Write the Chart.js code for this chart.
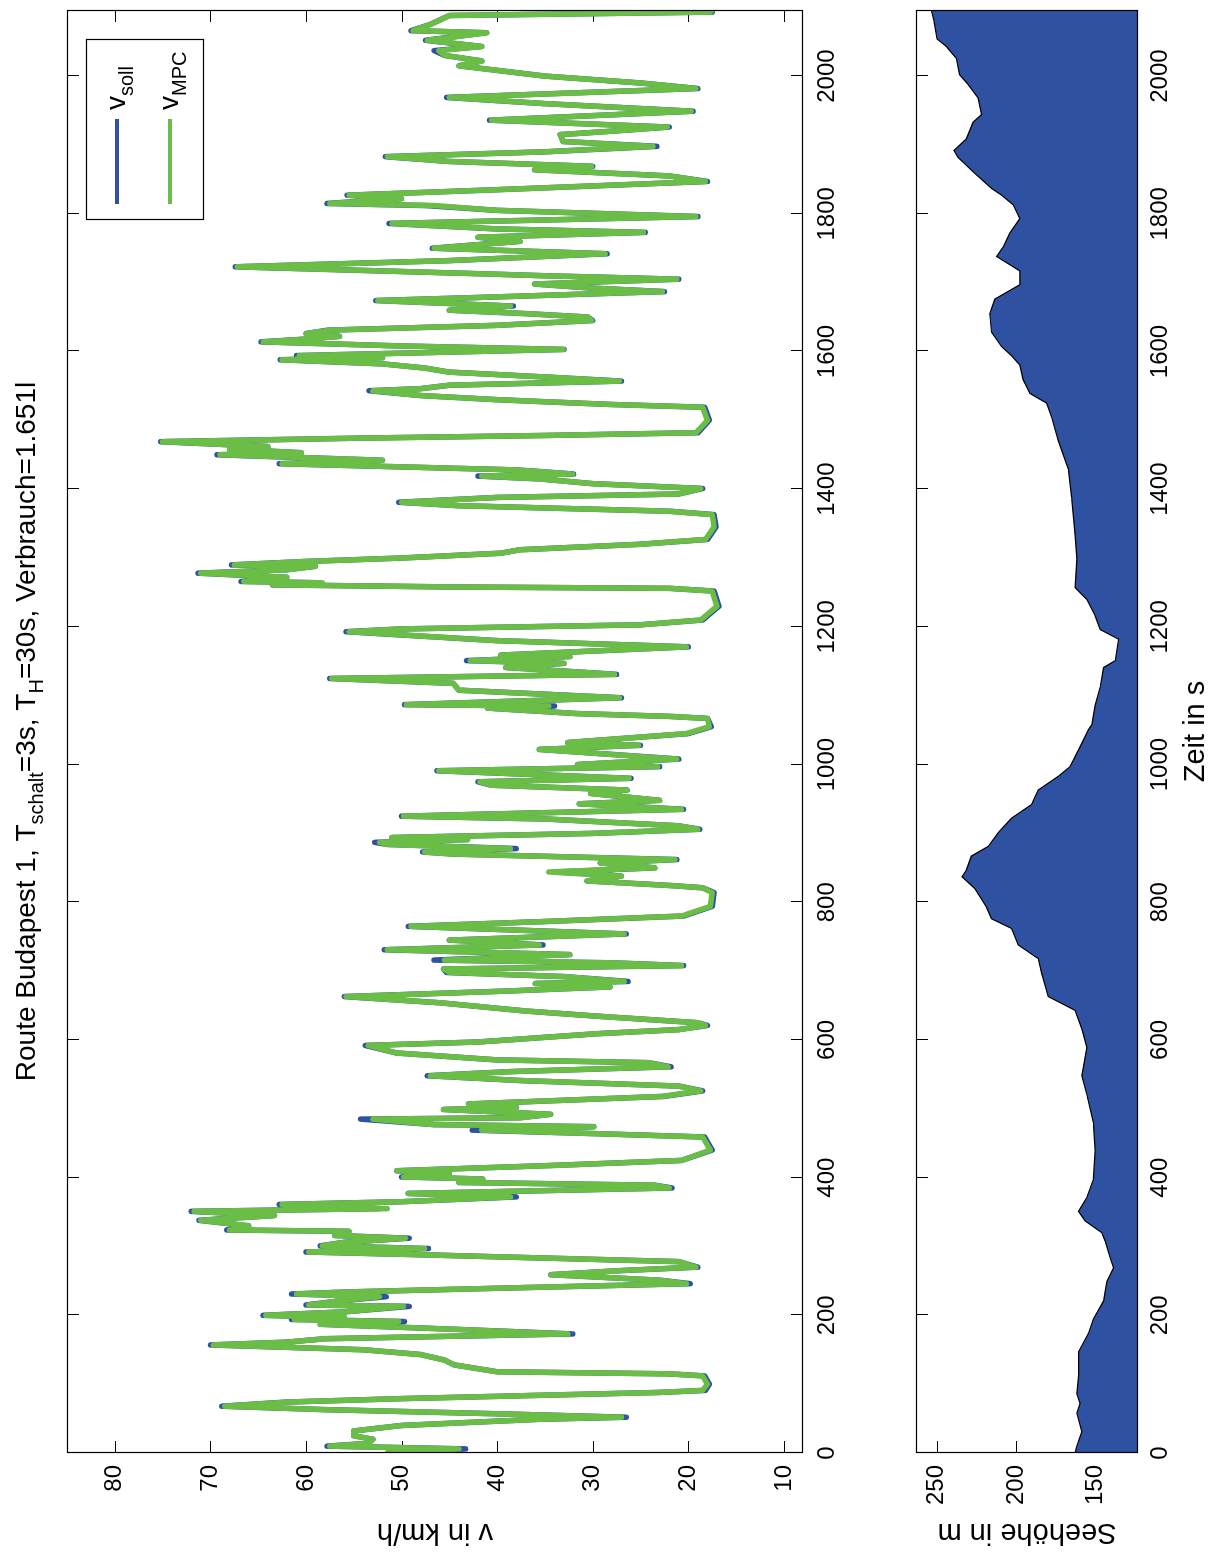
<!DOCTYPE html>
<html><head><meta charset="utf-8">
<script src="https://cdn.jsdelivr.net/npm/chart.js@4.4.0/dist/chart.umd.min.js"></script>
<style>
html,body{margin:0;padding:0;background:#fff;width:1222px;height:1555px;overflow:hidden}
#wrap{position:absolute;left:0;top:0;width:1555px;height:1222px;background:#fff;transform-origin:0 0;transform:translate(0,1555px) rotate(-90deg);}
#c1{position:absolute;left:0;top:0}
#c2{position:absolute;left:0;top:870px}
</style></head>
<body><div id="wrap"><canvas id="c1" width="1555" height="870"></canvas><canvas id="c2" width="1555" height="352"></canvas></div>
<script>
// ---- data ----
const timeS = [
0,3,6,10,14,20,25,32,40,49,
52,57,63,68,74,79,84,88,91,100,
112,115,118,128,135,143,150,157,161,166,
173,180,187,191,194,197,200,205,213,215,
221,227,231,234,240,246,251,259,265,270,
278,285,288,292,297,301,306,312,316,322,
324,330,338,345,351,355,361,365,372,377,
385,389,393,398,401,406,410,418,425,440,
459,464,469,474,477,485,487,492,499,502,
507,518,526,533,541,548,554,561,567,571,
581,592,597,609,615,621,625,634,642,654,
663,671,677,682,685,692,698,703,708,712,
716,724,731,738,742,745,754,765,772,780,
794,814,821,824,831,838,844,850,857,862,
870,873,878,884,887,891,894,900,906,911,
921,925,935,943,948,958,963,970,975,980,
991,997,1000,1008,1022,1028,1032,1045,1055,1067,
1070,1074,1082,1085,1087,1097,1108,1118,1125,1131,
1141,1147,1151,1157,1159,1171,1180,1193,1197,1203,
1210,1230,1252,1256,1258,1261,1264,1266,1272,1278,
1283,1288,1290,1295,1300,1307,1312,1320,1327,1345,
1363,1368,1376,1381,1388,1393,1401,1408,1415,1419,
1422,1428,1437,1442,1450,1453,1458,1462,1469,1474,
1478,1482,1500,1519,1523,1527,1530,1536,1543,1546,
1551,1557,1563,1570,1576,1582,1588,1591,1594,1603,
1608,1614,1618,1622,1626,1631,1638,1645,1650,1655,
1660,1666,1674,1678,1687,1692,1698,1705,1710,1713,
1723,1732,1742,1750,1760,1766,1773,1778,1786,1796,
1805,1812,1815,1822,1827,1835,1847,1855,1864,1869,
1876,1883,1890,1898,1905,1915,1920,1926,1936,1949,
1960,1969,1982,1990,2000,2015,2022,2030,2037,2043,
2052,2063,2066,2075,2088,2093,2096];
const vSoll = [
51.5,48,43.3,57.8,53.5,53,55,55,50,35.6,
26.5,40,58,68.8,62,50,35,23,18.2,17.8,
18.3,22,40,44.5,45.5,48,54,70,62,58,
32.1,45,58.5,49.7,61.5,56,64.5,56,49.2,60,
56.5,51.6,61.5,55.5,38,19.8,23,34.4,27,19,
21,40,48,60,47.2,58.5,56,49.2,57,55.5,
68.3,66,71.2,63.3,72,52.3,62.8,50,38,49.3,
21.7,23.5,44,41.5,50,45,50.5,33.6,20.7,17.5,
18.3,30,42.6,29.9,46.6,54.3,37.6,34.4,45.6,38,
43,22.5,18.5,21,37.5,47.3,38.6,21.8,24.2,40,
50.5,53.8,42,29.6,21,18,19,29,37,46,
56,39,28.2,36,26.3,33,45.3,45.6,20.5,28,
46.6,32.4,51.8,35.2,40.5,45,26.5,49.3,35,20.5,
17.5,17.3,18.5,21.5,30.6,27,33.8,23.5,29.2,21.2,
44.6,47.8,38,51.5,52.8,43.1,51,30,18.8,21,
35,50,20.5,31.4,23,30.2,26.4,40.6,42,26,
46.3,23,31.6,21,35.6,25,32.6,20,17.6,18,
22,31.6,41,34,49.7,27,44,44.6,57.5,27.5,
39.1,33,43.2,32.4,39.6,20,40,55.8,50,25,
18.5,16.8,17.3,22,45,63.5,58.6,66.8,62,71.3,
62,59,67.8,60,50,39.6,37.6,25,18,17.1,
17.3,22,44,50.3,40,21,18.5,30,35.6,42,
32,38,62.8,52,69.3,60.5,68,64,75.2,55,
35,19,17.8,18.3,28,35,40,48,53.4,48,
45,27,35,45,47.6,52,62.7,52,61,33,
50,64.7,60,56.5,60,57.7,40,30,30.5,37,
45,38.3,52.7,43,22.5,30,36.1,21,35,42,
67.4,45,28.5,46.8,37.6,42,24.5,40,51.3,19,
40,47.5,57.8,50,55.7,40,18,22,36.1,30,
45,51.7,35,23.3,33.1,33.4,28,22,40.8,19.5,
35,45.3,19,25,35,44,41.6,45.5,46.6,41.6,
47.5,41.1,49,47,45,17.5,17.5];
const vMPC = [
51.5,48,44,57.5,53.5,53,55,55,50,35.6,
27,40,58,68.5,62,50,35,23,18.5,18,
18.5,22,40,44.5,45.5,48,54,69.7,62,58,
32.6,45,58.5,50.3,61.2,56,64.2,56,49.8,59.7,
56.5,52.3,61,55.5,38,20.2,23,34.4,27,19.2,
21,40,48,59.7,47.6,58.3,56,49.6,57,55.5,
68,66,71,63.3,71.7,51.5,62.5,50,38.6,49.3,
22,23.5,44,41.5,49.8,45,50.5,33.6,20.7,17.7,
18.5,30,41.6,29.9,46.6,53,37.6,34.4,45.6,38,
43,22.7,18.7,21,37.5,47,38.6,22.1,24.2,40,
50.5,53.5,42,29.6,21,18.2,19,29,37,46,
55.8,39,28.2,36,26.7,33,45,45.6,20.7,28,
45.5,32.4,51.5,35.6,40.5,45,26.7,49,35,20.7,
17.7,17.5,18.5,21.5,30.6,27,34.6,23.5,29.2,21.4,
44.6,47.6,38.6,51.5,52.3,43.1,51,30,19,21,
35,49.8,20.7,31.4,23,30.2,26.4,40.6,41.8,26.2,
46.1,23.2,31.6,21.2,35.6,25.2,32.6,20.2,17.8,18,
22,31.6,41,34.6,49.5,27.2,44,44.6,57.3,27.7,
39.1,33,42.8,32.4,39.6,20.2,40,55.5,50,25,
18.7,17,17.5,22,45,63.5,58.3,66.5,62,71,
62,59,67.5,60,50,39.6,37.6,25,18.2,17.3,
17.5,22,44,50,40,21,18.7,30,35.6,41.6,
32.1,38,62.5,52,69,60.5,68,64,75,55,
35,19.2,18,18.5,28,35,40,48,53,48,
45,27.2,35,45,47.6,52,62.5,52,60.7,33.1,
50,64.5,60,56.5,60,57.5,40,30.1,30.5,37,
45,38.6,52.5,43,22.7,30,36.1,21.2,35,42,
67.2,45,28.7,46.6,37.6,42,24.7,40,51,19.2,
40,46.6,57.5,50,55.5,40,18.2,22,36.1,30.1,
45,51.5,35,23.7,33.1,33.4,28,22.2,40.6,19.7,
35,45,19.2,25,35,44,41.6,45.5,46.1,41.6,
47.3,41.1,48.8,47,45,17.7,17.5];
const altTime = [0,10,31,58,72,86,113,147,174,195,221,249,269,283,307,320,337,351,371,398,439,480,521,548,589,616,643,663,697,718,738,762,776,793,820,837,847,867,881,901,922,942,963,983,997,1031,1051,1058,1086,1113,1141,1151,1182,1196,1216,1240,1257,1299,1333,1388,1429,1470,1504,1525,1539,1559,1580,1594,1607,1628,1655,1676,1697,1717,1738,1752,1772,1793,1813,1827,1837,1861,1882,1892,1909,1933,1944,1968,1988,2002,2026,2043,2054,2081,2096];
const altitude = [162.7,161.6,158.4,161.6,159.5,161.6,160.5,160.5,154.2,151.1,144.7,142.6,138.4,140.5,143.6,145.8,156.3,160.5,155.3,151.1,150,151.1,155.3,158.4,155.3,158.4,162.7,179.6,183.8,185.9,198.5,202.8,215.4,218.6,226,234,231.2,228.1,217.5,211.2,202.8,190.1,185.9,173.2,165.8,158.4,154.2,152.1,150,146.8,144.7,137.3,135.2,146.8,150,155.3,162.7,161.6,162.7,164.8,166.9,173.2,177.4,180.6,191.2,195.4,197.5,202.8,209,215.4,216.5,213.3,197.5,197.5,212.2,208,203.8,197.5,201.7,209,215.4,227,236.5,239,231.2,227,221.7,223.8,230.2,235.5,237.6,243.9,249.8,251.7,253.4];
const timeTicks = [0,200,400,600,800,1000,1200,1400,1600,1800,2000];
const speedTicks = [10,20,30,40,50,60,70,80];
const altTicks = [150,200,250];
const titleParts = [['Route Budapest 1, T',0],['schalt',1],['=3s, T',0],['H',1],['=30s, Verbrauch=1.651l',0]];
const legendItems = [['v','soll'],['v','MPC']];

// ---- styling ----
const FONT = '"Liberation Sans", Arial, Helvetica, sans-serif';
const BLUE = '#2E51A2', GREEN = '#6BBE45';
const TICK_FS = 24, LABEL_FS = 29, TITLE_FS = 28;

const framePlugin = {
  id: 'frame',
  beforeDatasetsDraw(chart) {
    const {ctx, chartArea: a, scales} = chart;
    ctx.save(); ctx.strokeStyle = '#000'; ctx.lineWidth = 1;
    const L = 12;
    scales.x.ticks.forEach(t => {
      const p = Math.round(scales.x.getPixelForValue(t.value)) + 0.5;
      ctx.beginPath(); ctx.moveTo(p, a.bottom); ctx.lineTo(p, a.bottom - L);
      ctx.moveTo(p, a.top); ctx.lineTo(p, a.top + L); ctx.stroke();
    });
    scales.y.ticks.forEach(t => {
      const p = Math.round(scales.y.getPixelForValue(t.value)) + 0.5;
      ctx.beginPath(); ctx.moveTo(a.left, p); ctx.lineTo(a.left + L, p);
      ctx.moveTo(a.right, p); ctx.lineTo(a.right - L, p); ctx.stroke();
    });
    ctx.restore();
  },
  afterDraw(chart) {
    const {ctx, chartArea: a} = chart;
    ctx.save(); ctx.strokeStyle = '#000'; ctx.lineWidth = 1.2;
    ctx.strokeRect(a.left + 0.5, a.top + 0.5, a.right - a.left - 1, a.bottom - a.top - 1);
    ctx.restore();
  }
};

function drawSubText(ctx, parts, x, y, fs, align) {
  const sfs = Math.round(fs * 0.72);
  let w = 0;
  parts.forEach(([s, sub]) => { ctx.font = (sub ? sfs : fs) + 'px ' + FONT; w += ctx.measureText(s).width; });
  let cx = align === 'center' ? x - w / 2 : x;
  ctx.textBaseline = 'alphabetic'; ctx.textAlign = 'left'; ctx.fillStyle = '#000';
  parts.forEach(([s, sub]) => {
    ctx.font = (sub ? sfs : fs) + 'px ' + FONT;
    ctx.fillText(s, cx, sub ? y + fs * 0.28 : y);
    cx += ctx.measureText(s).width;
  });
}

const titlePlugin = {
  id: 'mtitle',
  afterDraw(chart) {
    const {ctx, chartArea: a} = chart;
    ctx.save();
    drawSubText(ctx, titleParts, (a.left + a.right) / 2, 35, TITLE_FS, 'center');
    ctx.restore();
  }
};

const legendPlugin = {
  id: 'mlegend',
  afterDraw(chart) {
    const {ctx} = chart;
    ctx.save();
    const bx = 1335, by = 86, bw = 180, bh = 117;
    ctx.fillStyle = '#fff'; ctx.fillRect(bx, by, bw, bh);
    ctx.strokeStyle = '#000'; ctx.lineWidth = 1.2; ctx.strokeRect(bx + 0.5, by + 0.5, bw, bh);
    const cols = [BLUE, GREEN];
    const ys = [117, 170];
    legendItems.forEach(([a, b], i) => {
      ctx.strokeStyle = cols[i]; ctx.lineWidth = 4;
      ctx.beginPath(); ctx.moveTo(1351, ys[i]); ctx.lineTo(1436, ys[i]); ctx.stroke();
      drawSubText(ctx, [[a, 0], [b, 1]], 1445, ys[i] + 8, 28, 'left');
    });
    ctx.restore();
  }
};

const tickFont = {family: FONT, size: TICK_FS};
const labelFont = {family: FONT, size: LABEL_FS};

new Chart(document.getElementById('c1'), {
  type: 'line',
  data: {datasets: [
    {label: 'v_soll', order: 2, data: timeS.map((t, i) => ({x: t, y: vSoll[i]})), borderColor: BLUE, borderWidth: 5.5,
     pointRadius: 0, tension: 0, fill: false, borderJoinStyle: 'round', borderCapStyle: 'round'},
    {label: 'v_MPC', order: 1, data: timeS.map((t, i) => ({x: t, y: vMPC[i]})), borderColor: GREEN, borderWidth: 5.5,
     pointRadius: 0, tension: 0, fill: false, borderJoinStyle: 'round', borderCapStyle: 'round'}
  ]},
  options: {
    responsive: false, animation: false, devicePixelRatio: 1,
    layout: {padding: {left: 0, right: 10, top: 67, bottom: 0}},
    plugins: {legend: {display: false}, tooltip: {enabled: false}, title: {display: false}},
    scales: {
      x: {type: 'linear', min: 0, max: 2096,
          afterBuildTicks: s => { s.ticks = timeTicks.map(v => ({value: v})); },
          afterFit: s => { s.height = 67; },
          grid: {display: false, drawTicks: false}, border: {display: false},
          ticks: {padding: 10, font: tickFont, color: '#000', maxRotation: 0, autoSkip: false, callback: v => String(v)}},
      y: {type: 'linear', min: 8, max: 85,
          afterBuildTicks: s => { s.ticks = speedTicks.map(v => ({value: v})); },
          afterFit: s => { s.width = 102; },
          grid: {display: false, drawTicks: false}, border: {display: false},
          title: {display: true, text: 'v in km/h', font: labelFont, color: '#000', padding: {top: 6, bottom: 0}},
          ticks: {padding: 12, font: tickFont, color: '#000', autoSkip: false, callback: v => String(v)}}
    }
  },
  plugins: [framePlugin, titlePlugin, legendPlugin]
});

new Chart(document.getElementById('c2'), {
  type: 'line',
  data: {datasets: [
    {label: 'Seehöhe', data: altTime.map((t, i) => ({x: t, y: altitude[i]})), borderColor: '#000', borderWidth: 1.2,
     backgroundColor: BLUE, fill: 'start', pointRadius: 0, tension: 0}
  ]},
  options: {
    responsive: false, animation: false, devicePixelRatio: 1,
    layout: {padding: {left: 0, right: 10, top: 46, bottom: 0}},
    plugins: {legend: {display: false}, tooltip: {enabled: false}},
    scales: {
      x: {type: 'linear', min: 0, max: 2096,
          afterBuildTicks: s => { s.ticks = timeTicks.map(v => ({value: v})); },
          afterFit: s => { s.height = 84; },
          grid: {display: false, drawTicks: false}, border: {display: false},
          title: {display: true, text: 'Zeit in s', font: labelFont, color: '#000', padding: {top: 0, bottom: 9}},
          ticks: {padding: 8, font: tickFont, color: '#000', maxRotation: 0, autoSkip: false, callback: v => String(v)}},
      y: {type: 'linear', min: 123, max: 263,
          afterBuildTicks: s => { s.ticks = altTicks.map(v => ({value: v})); },
          afterFit: s => { s.width = 102; },
          grid: {display: false, drawTicks: false}, border: {display: false},
          title: {display: true, text: 'Seehöhe in m', font: labelFont, color: '#000', padding: {top: 6, bottom: 0}},
          ticks: {padding: 12, font: tickFont, color: '#000', autoSkip: false, callback: v => String(v)}}
    }
  },
  plugins: [framePlugin]
});
</script>
</body></html>
